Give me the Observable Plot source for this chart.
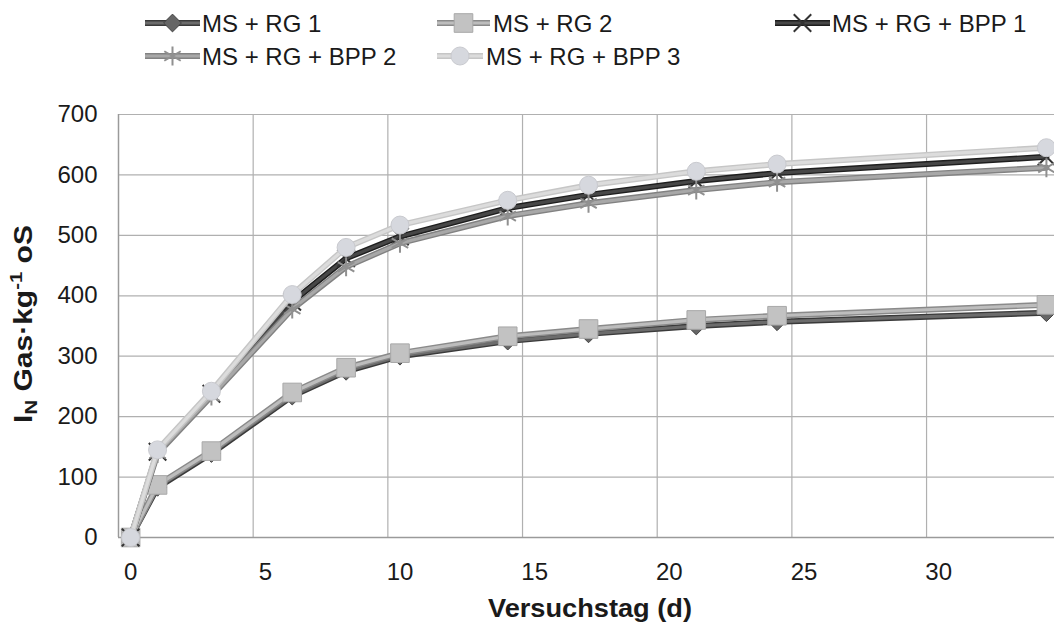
<!DOCTYPE html>
<html><head><meta charset="utf-8">
<script src="https://cdn.jsdelivr.net/npm/d3@7"></script>
<script src="https://cdn.jsdelivr.net/npm/@observablehq/plot@0.6"></script>
<style>
body{margin:0;background:#fff;font-family:"Liberation Sans",Arial,sans-serif;}
#wrap{position:relative;width:1054px;height:623px;overflow:hidden;background:#fff}
#legend{width:1054px;height:80px}
#chart svg{overflow:visible;display:block}
</style></head><body><div id="wrap"><div id="legend"></div><div id="chart"></div></div>
<script>
// ---- data ----
const days = [0, 1, 3, 6, 8, 10, 14, 17, 21, 24, 34];
const seriesNames = ["MS + RG 1", "MS + RG 2", "MS + RG + BPP 1", "MS + RG + BPP 2", "MS + RG + BPP 3"];
const rg1  = [0, 83, 139, 234, 275, 300, 325, 337, 350, 357, 372];
const rg2  = [0, 87, 143, 240, 281, 305, 333, 345, 360, 367, 385];
const bpp1 = [0, 142, 238, 390, 462, 498, 545, 567, 590, 603, 630];
const bpp2 = [0, 139, 234, 378, 448, 487, 532, 553, 575, 588, 612];
const bpp3 = [0, 145, 242, 402, 480, 517, 558, 583, 606, 618, 645];
const xTicks = [0, 5, 10, 15, 20, 25, 30];
const yTicks = [0, 100, 200, 300, 400, 500, 600, 700];
const xLabel = "Versuchstag (d)";

// ---- styles ----
const xMin = -0.45, xMax = 34.3;
const styles = [
  {symbol: "diamond2", r: 8,   line: "#6c6c6c", edge: "#3a3a3a", fill: "#666666", stroke: "#444444"},
  {symbol: "square",   r: 10.5, line: "#bdbdbd", edge: "#8a8a8a", fill: "#c2c2c2", stroke: "#a8a8a8"},
  {symbol: "times",    r: 8,   line: "#474747", edge: "#1e1e1e", fill: "none",    stroke: "#333333"},
  {symbol: "asterisk", r: 9,   line: "#a8a8a8", edge: "#828282", fill: "none",    stroke: "#909090"},
  {symbol: "circle",   r: 9,   line: "#dcdcdc", edge: "#c6c6c6", fill: "#d6d8de", stroke: "#c9cacf"}
];
const valuesList = [rg1, rg2, bpp1, bpp2, bpp3];
const rows = [];
seriesNames.forEach((name, si) => days.forEach((d, i) => rows.push({series: name, si, day: d, value: valuesList[si][i]})));

const marks = [
  Plot.ruleY(yTicks.filter(v => v > 0), {stroke: "#b0b0b0", strokeWidth: 1.2}),
  Plot.ruleX(xTicks.filter(v => v > 0).map(v => v + xMin), {stroke: "#b0b0b0", strokeWidth: 1.2}),
  Plot.ruleY([0], {stroke: "#9a9a9a", strokeWidth: 1.5}),
  Plot.ruleX([xMin], {stroke: "#9a9a9a", strokeWidth: 1.5})
];
seriesNames.forEach((name, si) => {
  const data = rows.filter(r => r.si === si);
  const st = styles[si];
  marks.push(Plot.line(data, {x: "day", y: "value", stroke: st.edge, strokeWidth: 6, strokeLinejoin: "round"}));
  marks.push(Plot.line(data, {x: "day", y: "value", stroke: st.line, strokeWidth: 3.2, strokeLinejoin: "round"}));
  marks.push(Plot.dot(data, {x: "day", y: "value", symbol: () => st.symbol, r: st.r,
    fill: st.fill, stroke: st.stroke, strokeWidth: st.fill === "none" ? 2 : 1}));
});

const chart = Plot.plot({
  width: 1054, height: 543,
  marginLeft: 118, marginRight: 0, marginTop: 34, marginBottom: 86,
  x: {domain: [xMin, xMax], ticks: xTicks, tickSize: 0, tickPadding: 25, label: null},
  y: {domain: [0, 700], ticks: yTicks, tickSize: 0, tickPadding: 21, label: null},
  style: {fontFamily: '"Liberation Sans", Arial, sans-serif', fontSize: "24px", color: "#1a1a1a", background: "#fff", overflow: "visible"},
  marks
});
document.getElementById("chart").appendChild(chart);

const svg = d3.select(chart);
svg.append("text").attr("x", 590).attr("y", 537).attr("text-anchor", "middle")
  .attr("font-weight", "bold").attr("font-size", 25).attr("fill", "#1a1a1a")
  .attr("textLength", 204).attr("lengthAdjust", "spacingAndGlyphs").text(xLabel);

const yl = svg.append("text").attr("transform", `translate(32,${324 - 80}) rotate(-90) scale(1.2,1)`)
  .attr("text-anchor", "middle").attr("font-weight", "bold").attr("font-size", 25).attr("fill", "#1a1a1a");
yl.append("tspan").text("I");
yl.append("tspan").attr("font-size", 17).attr("dy", 5).text("N");
yl.append("tspan").attr("dy", -5).text(" Gas·kg");
yl.append("tspan").attr("font-size", 17).attr("dy", -10).text("-1");
yl.append("tspan").attr("dy", 10).text(" oS");

// ---- legend ----
const legendPos = [
  {x0: 145, x1: 200, tx: 202, y: 23},
  {x0: 437, x1: 490, tx: 493, y: 23},
  {x0: 775, x1: 830, tx: 832, y: 23},
  {x0: 145, x1: 200, tx: 202, y: 56},
  {x0: 437, x1: 483, tx: 486, y: 56}
];
const symMap = {diamond2: d3.symbolDiamond2, square: d3.symbolSquare, times: d3.symbolTimes, asterisk: d3.symbolAsterisk, circle: d3.symbolCircle};
const lg = d3.select("#legend").append("svg").attr("width", 1054).attr("height", 80);
seriesNames.forEach((name, si) => {
  const p = legendPos[si], st = styles[si];
  lg.append("line").attr("x1", p.x0).attr("x2", p.x1).attr("y1", p.y).attr("y2", p.y).attr("stroke", st.edge).attr("stroke-width", 6);
  lg.append("line").attr("x1", p.x0).attr("x2", p.x1).attr("y1", p.y).attr("y2", p.y).attr("stroke", st.line).attr("stroke-width", 3.2);
  lg.append("path").attr("transform", `translate(${(p.x0 + p.x1) / 2},${p.y})`)
    .attr("d", d3.symbol(symMap[st.symbol], st.r * st.r * Math.PI)())
    .attr("fill", st.fill).attr("stroke", st.stroke).attr("stroke-width", st.fill === "none" ? 2 : 1);
  lg.append("text").attr("x", p.tx).attr("y", p.y + 8.7).attr("font-size", 24).attr("fill", "#1a1a1a")
    .attr("font-family", '"Liberation Sans", Arial, sans-serif').text(name);
});
</script></body></html>
